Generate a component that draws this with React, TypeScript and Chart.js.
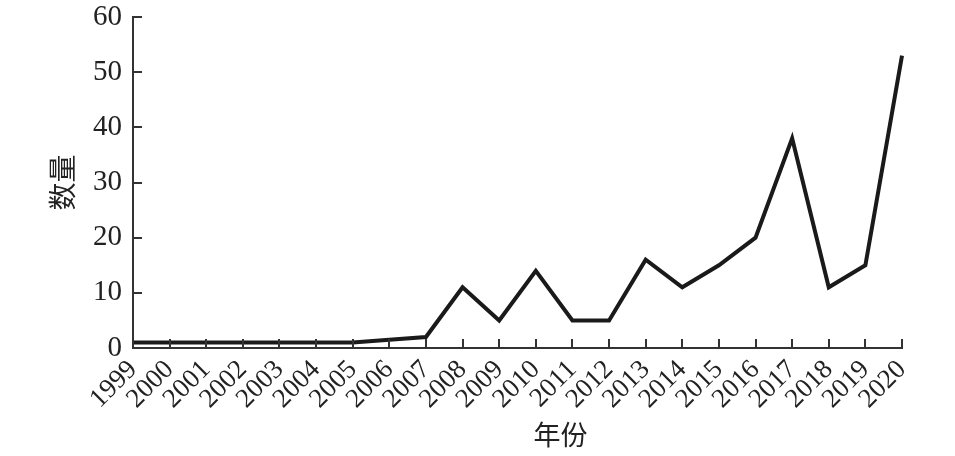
import React, { useEffect, useRef } from "react";
import { Chart, registerables } from "chart.js";

Chart.register(...registerables);

const years = ["1999","2000","2001","2002","2003","2004","2005","2006","2007","2008","2009","2010","2011","2012","2013","2014","2015","2016","2017","2018","2019","2020"];
const counts = [1, 1, 1, 1, 1, 1, 1, 1.5, 2, 11, 5, 14, 5, 5, 16, 11, 15, 20, 38, 11, 15, 53];
const yTicks = [0, 10, 20, 30, 40, 50, 60];
const xTitle = "年份";
const yTitle = "数量";

const innerTicksPlugin = {
  id: "innerTicksPlugin",
  afterDraw(chart: any) {
    const { ctx, chartArea, scales } = chart;
    ctx.save();
    ctx.strokeStyle = "#333";
    ctx.lineWidth = 2;
    ctx.beginPath();
    scales.x.ticks.forEach((_t: any, i: number) => {
      const x = Math.round(scales.x.getPixelForTick(i));
      ctx.moveTo(x, chartArea.bottom);
      ctx.lineTo(x, chartArea.bottom - 9);
    });
    scales.y.ticks.forEach((_t: any, i: number) => {
      const y = Math.round(scales.y.getPixelForTick(i));
      ctx.moveTo(chartArea.left, y);
      ctx.lineTo(chartArea.left + 9, y);
    });
    ctx.stroke();
    ctx.font = '27px "Noto Sans CJK SC"';
    ctx.fillStyle = "#222";
    ctx.textAlign = "center";
    ctx.textBaseline = "middle";
    ctx.fillText(xTitle, (chartArea.left + chartArea.right) / 2 + 43, 435);
    ctx.restore();
  },
};

export default function App() {
  const ref = useRef<HTMLCanvasElement | null>(null);
  useEffect(() => {
    document.body.style.margin = "0";
    const chart = new Chart(ref.current as HTMLCanvasElement, {
      type: "line",
      data: {
        labels: years,
        datasets: [
          {
            data: counts,
            borderColor: "#1a1a1a",
            borderWidth: 4,
            pointRadius: 0,
            tension: 0,
            fill: false,
          },
        ],
      },
      plugins: [innerTicksPlugin],
      options: {
        animation: false,
        responsive: false,
        layout: { padding: { top: 17, right: 53, left: 0, bottom: 0 } },
        plugins: { legend: { display: false }, tooltip: { enabled: false } },
        scales: {
          x: {
            offset: false,
            grid: { drawOnChartArea: false, drawTicks: false },
            border: { color: "#333", width: 2 },
            ticks: {
              autoSkip: false,
              maxRotation: 45,
              minRotation: 45,
              padding: 6,
              color: "#222",
              font: { family: '"Liberation Serif"', size: 27 },
            },
            afterFit(scale: any) {
              scale.height = 108;
              scale.paddingLeft = 0;
              scale.paddingRight = 0;
            },
          },
          y: {
            min: 0,
            max: 60,
            afterBuildTicks(scale: any) {
              scale.ticks = yTicks.map((v) => ({ value: v }));
            },
            grid: { drawOnChartArea: false, drawTicks: false },
            border: { color: "#333", width: 2 },
            ticks: {
              padding: 11,
              color: "#222",
              font: { family: '"Liberation Serif"', size: 29 },
            },
            title: {
              display: true,
              text: yTitle,
              color: "#222",
              padding: { top: 46, bottom: 0 },
              font: { family: '"Noto Sans CJK SC"', size: 28 },
            },
            afterFit(scale: any) {
              scale.width = 133;
              scale.paddingTop = 0;
              scale.paddingBottom = 0;
            },
          },
        },
      },
    });
    return () => chart.destroy();
  }, []);
  return (
    <div style={{ width: 955, height: 456 }}>
      <canvas ref={ref} width={955} height={456} style={{ display: "block" }} />
    </div>
  );
}
